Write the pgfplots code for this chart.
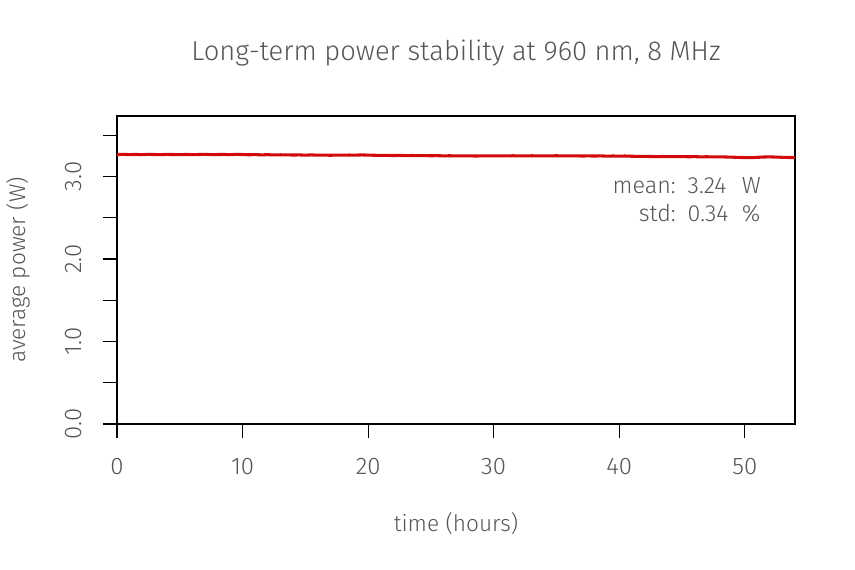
\documentclass[border=0pt]{standalone}
\usepackage{pgfplots}
\pgfplotsset{compat=1.18}
\usepackage{fontspec}
\setmainfont{Fira Sans}[UprightFont={* Light}]
\definecolor{txt}{HTML}{555555}
\definecolor{pwr}{HTML}{D20A0A}
\begin{document}
\begin{tikzpicture}[x=1pt,y=1pt]
\path[use as bounding box] (-87.75,-109.5) rectangle (553.5,318);
\begin{axis}[
  at={(0,0)}, anchor=south west,
  scale only axis, width=508.5pt, height=231pt,
  xmin=0, xmax=54, ymin=0, ymax=3.733,
  xtick={0,10,20,30,40,50},
  ytick={0,0.5,1,1.5,2,2.5,3,3.5},
  yticklabels={0.0,,1.0,,2.0,,3.0,},
  tick align=outside, major tick length=10.5pt,
  xtick pos=bottom, ytick pos=left,
  axis line style={black, line width=0.8pt},
  every tick/.style={black, line width=0.8pt},
  /pgf/number format/assume math mode=true,
  tick label style={font=\fontsize{18}{18}\selectfont, text=txt},
  xticklabel style={anchor=base, yshift=-27pt},
  yticklabel style={xshift=-15.75pt, rotate=90, anchor=base},
  label style={font=\fontsize{17}{17}\selectfont, text=txt},
  xlabel={time (hours)},
  ylabel={average power (W)},
  xlabel style={at={(axis description cs:0.5,-0.3247)}, anchor=center},
  ylabel style={at={(axis description cs:-0.146,0.5)}, anchor=center, rotate=0},
  title={Long-term power stability at 960 nm, 8 MHz},
  title style={at={(axis description cs:0.5,1.1549)}, anchor=base, font=\fontsize{20.5}{20.5}\selectfont, text=txt},
  clip=true,
]
\addplot[pwr, line width=2.3pt] coordinates {
(0,3.266) (0.5,3.268) (1,3.265) (1.5,3.267) (2,3.264) (2.5,3.268) (3,3.266) (3.5,3.265) (4,3.267) (4.5,3.266)
(5,3.264) (5.5,3.267) (6,3.265) (6.5,3.266) (7,3.268) (7.5,3.265) (8,3.266) (8.5,3.267) (9,3.264) (9.5,3.268)
(10,3.266) (10.5,3.263) (11,3.265) (11.5,3.262) (12,3.264) (12.5,3.261) (13,3.263) (13.5,3.262) (14,3.260) (14.5,3.261)
(15,3.259) (15.5,3.261) (16,3.258) (16.5,3.259) (17,3.257) (17.5,3.259) (18,3.258) (18.5,3.260) (19,3.259) (19.5,3.261)
(20,3.259) (20.5,3.257) (21,3.256) (21.5,3.255) (22,3.254) (22.5,3.255) (23,3.253) (23.5,3.254) (24,3.252) (24.5,3.253)
(25,3.251) (25.5,3.252) (26,3.250) (26.5,3.251) (27,3.250) (27.5,3.249) (28,3.250) (28.5,3.248) (29,3.249) (29.5,3.250)
(30,3.249) (30.5,3.250) (31,3.249) (31.5,3.251) (32,3.250) (32.5,3.249) (33,3.251) (33.5,3.250) (34,3.249) (34.5,3.250)
(35,3.251) (35.5,3.250) (36,3.249) (36.5,3.250) (37,3.248) (37.5,3.249) (38,3.248) (38.5,3.249) (39,3.247) (39.5,3.248)
(40,3.247) (40.5,3.248) (41,3.245) (41.5,3.244) (42,3.243) (42.5,3.242) (43,3.241) (43.5,3.242) (44,3.241) (44.5,3.240)
(45,3.241) (45.5,3.239) (46,3.240) (46.5,3.238) (47,3.239) (47.5,3.237) (48,3.238) (48.5,3.236) (49,3.234) (49.5,3.231)
(50,3.229) (50.5,3.228) (51,3.232) (51.5,3.236) (52,3.237) (52.5,3.235) (53,3.232) (53.5,3.230) (54,3.229)
};
\node[anchor=base east, text=txt, font=\fontsize{17.5}{21.3}\selectfont, inner sep=0pt]
  at (axis cs:51.29,2.796) {\begin{tabular}[t]{@{}r@{\hspace{9pt}}l@{\hspace{10pt}}l@{}}mean: & 3.24 & W\\ std: & 0.34 & \%\end{tabular}};
\end{axis}
\end{tikzpicture}
\end{document}
